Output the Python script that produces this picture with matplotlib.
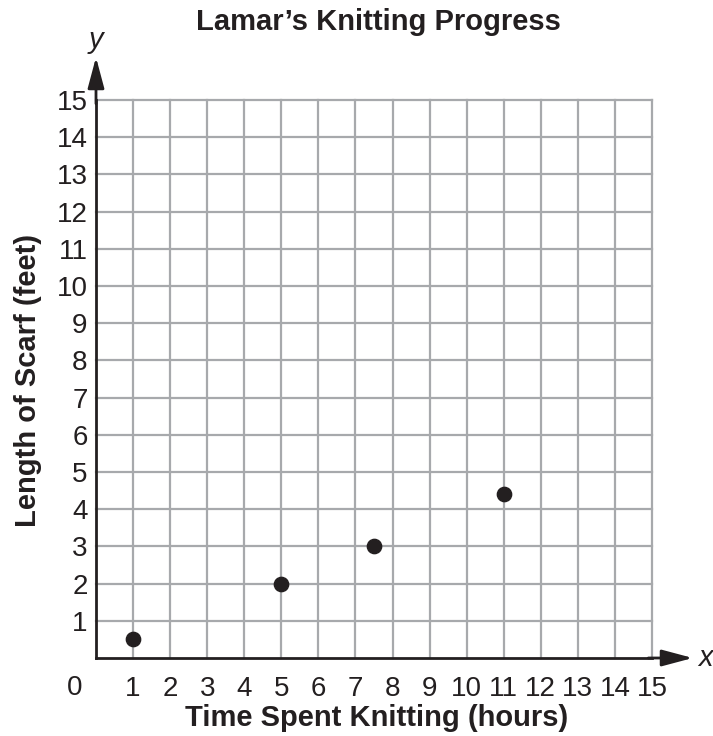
import matplotlib.pyplot as plt

plt.rcParams['font.family'] = ['Liberation Sans', 'DejaVu Sans']

# hours spent knitting and scarf length in feet
hours = [1, 5, 7.5, 11]
length_ft = [0.5, 2, 3, 4.4]
ticks = list(range(1, 16))

fig = plt.figure(figsize=(7.13, 7.36), dpi=100)
ax = fig.add_axes([96 / 713, 78 / 736, 556 / 713, 558 / 736])

ax.set_xlim(0, 15)
ax.set_ylim(0, 15)
ax.set_xticks(ticks)
ax.set_yticks(ticks)
ax.set_xticklabels([str(t) for t in ticks])
ax.set_yticklabels([str(t) for t in ticks])
ax.tick_params(length=0, labelsize=20, colors='#231f20')
ax.tick_params(axis='x', pad=13)
ax.tick_params(axis='y', pad=6)

# light grey grid, including the outer lines at 15
for t in ticks:
    ax.axvline(t, color='#a7a9ac', lw=1.6, zorder=1, clip_on=False)
    ax.axhline(t, color='#a7a9ac', lw=1.6, zorder=1, clip_on=False)

ax.spines['top'].set_visible(False)
ax.spines['right'].set_visible(False)
ax.spines['left'].set_linewidth(2)
ax.spines['bottom'].set_linewidth(2)
ax.spines['left'].set_color('#231f20')
ax.spines['bottom'].set_color('#231f20')

# axis arrows
arrow = dict(arrowstyle='-|>,head_length=1.05,head_width=0.28', color='#231f20', lw=2,
             shrinkA=0, shrinkB=0, mutation_scale=18)
ax.annotate('', xy=(0, 16.15), xytext=(0, 14.9), arrowprops=arrow, annotation_clip=False)
ax.annotate('', xy=(16.1, 0), xytext=(14.9, 0), arrowprops=arrow, annotation_clip=False)
ax.text(0, 16.6, 'y', style='italic', fontsize=21, ha='center', va='center', color='#231f20')
ax.text(16.45, 0, 'x', style='italic', fontsize=21, ha='center', va='center', color='#231f20')
ax.text(-0.57, -0.81, '0', fontsize=20, ha='center', va='center', color='#231f20')

ax.plot(hours, length_ft, 'o', color='#231f20', markersize=10.3, zorder=3, clip_on=False)

fig.text(378 / 713, 1 - 22 / 736, 'Lamar\u2019s Knitting Progress', fontsize=21,
         fontweight='bold', ha='center', va='center', color='#231f20')
fig.text(377 / 713, 1 - 718 / 736, 'Time Spent Knitting (hours)', fontsize=21,
         fontweight='bold', ha='center', va='center', color='#231f20')
fig.text(28 / 713, 1 - 380 / 736, 'Length of Scarf (feet)', fontsize=21,
         fontweight='bold', ha='center', va='center', rotation=90, color='#231f20')

fig.savefig('out.png', dpi=100)
